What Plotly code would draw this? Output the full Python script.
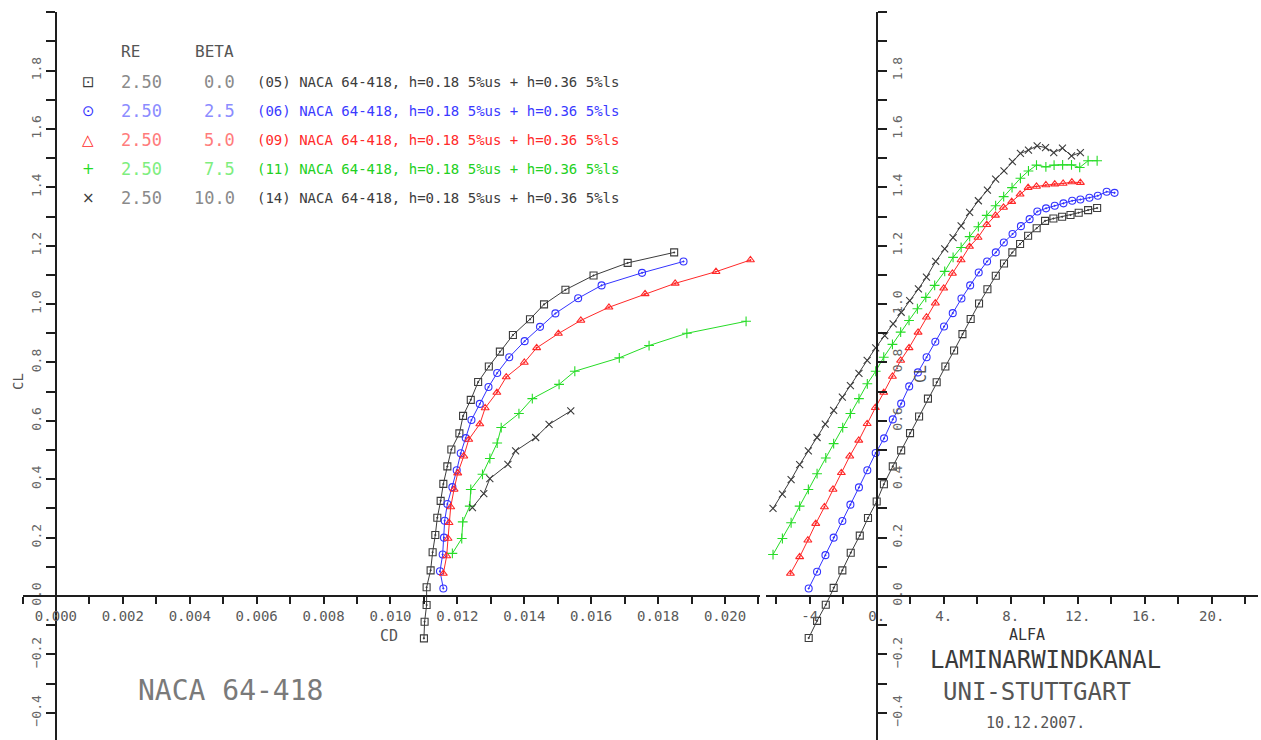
import plotly.graph_objects as go

W, H = 1261, 740

# ---------------- data: polar CL vs CD ----------------
cd_b00 = [0.01100, 0.01102, 0.01108, 0.01108, 0.01120, 0.01126, 0.01134, 0.01140, 0.01150, 0.01158,
          0.01170, 0.01182, 0.01206, 0.01217, 0.01240, 0.01262, 0.01294, 0.01327, 0.01366, 0.01417,
          0.01459, 0.01523, 0.01607, 0.01709, 0.01848]
clp_b00 = [-0.145, -0.088, -0.031, 0.030, 0.088, 0.150, 0.209, 0.268, 0.326, 0.384,
           0.444, 0.502, 0.557, 0.617, 0.672, 0.733, 0.786, 0.837, 0.894, 0.948,
           0.999, 1.049, 1.098, 1.141, 1.177]

cd_b25 = [0.01158, 0.01148, 0.01156, 0.01160, 0.01162, 0.01170, 0.01185, 0.01198, 0.01210, 0.01225,
          0.01242, 0.01267, 0.01293, 0.01319, 0.01355, 0.01401, 0.01447, 0.01493, 0.01561, 0.01631,
          0.01752, 0.01876]
clp_b25 = [0.026, 0.085, 0.142, 0.200, 0.258, 0.315, 0.373, 0.431, 0.489, 0.541,
           0.603, 0.658, 0.716, 0.764, 0.818, 0.873, 0.922, 0.968, 1.020, 1.064,
           1.107, 1.146]

cd_b50 = [0.01158, 0.01168, 0.01172, 0.01175, 0.01180, 0.01190, 0.01201, 0.01219, 0.01234, 0.01267,
          0.01283, 0.01318, 0.01346, 0.01400, 0.01437, 0.01502, 0.01569, 0.01653, 0.01761, 0.01851,
          0.01973, 0.02076]
clp_b50 = [0.077, 0.137, 0.197, 0.251, 0.305, 0.365, 0.421, 0.479, 0.536, 0.589,
           0.644, 0.697, 0.750, 0.800, 0.850, 0.899, 0.944, 0.989, 1.035, 1.071,
           1.111, 1.151]

cd_b75 = [0.01185, 0.01213, 0.01216, 0.01237, 0.01240, 0.01275, 0.01297, 0.01319, 0.01331, 0.01384,
          0.01424, 0.01504, 0.01551, 0.01684, 0.01773, 0.01886, 0.02063]
clp_b75 = [0.146, 0.197, 0.254, 0.308, 0.365, 0.417, 0.471, 0.524, 0.577, 0.625,
           0.676, 0.725, 0.770, 0.816, 0.858, 0.900, 0.941]

cd_b100 = [0.01245, 0.01279, 0.01297, 0.01351, 0.01374, 0.01434, 0.01474, 0.01539]
clp_b100 = [0.303, 0.351, 0.402, 0.451, 0.497, 0.543, 0.588, 0.634]

# ---------------- data: lift curve CL vs ALFA ----------------
alfa_b00 = [-4.06, -3.56, -3.04, -2.57, -2.05, -1.55, -1.01, -0.52, 0.00, 0.43,
            0.96, 1.46, 1.99, 2.53, 3.06, 3.58, 4.10, 4.62, 5.12, 5.61,
            6.11, 6.61, 7.11, 7.60, 8.10, 8.56, 9.04, 9.55, 10.05, 10.55,
            11.07, 11.57, 12.06, 12.62, 13.16]
cla_b00 = [-0.144, -0.085, -0.030, 0.028, 0.088, 0.148, 0.207, 0.267, 0.324, 0.383,
           0.444, 0.499, 0.558, 0.615, 0.676, 0.732, 0.786, 0.841, 0.897, 0.949,
           1.002, 1.051, 1.097, 1.139, 1.177, 1.206, 1.234, 1.260, 1.285, 1.293,
           1.299, 1.305, 1.313, 1.322, 1.329]

alfa_b25 = [-4.06, -3.56, -3.06, -2.57, -2.05, -1.57, -1.06, -0.56, -0.06, 0.44,
            0.96, 1.46, 1.94, 2.46, 2.98, 3.50, 4.02, 4.54, 5.06, 5.58,
            6.09, 6.59, 7.11, 7.59, 8.11, 8.61, 9.13, 9.59, 10.11, 10.63,
            11.15, 11.67, 12.16, 12.70, 13.20, 13.73, 14.20]
cla_b25 = [0.026, 0.083, 0.140, 0.200, 0.257, 0.313, 0.372, 0.431, 0.490, 0.540,
           0.605, 0.659, 0.718, 0.766, 0.818, 0.871, 0.923, 0.969, 1.019, 1.064,
           1.108, 1.146, 1.177, 1.211, 1.240, 1.267, 1.291, 1.317, 1.328, 1.337,
           1.345, 1.354, 1.358, 1.364, 1.371, 1.385, 1.381]

alfa_b50 = [-5.15, -4.60, -4.11, -3.64, -3.12, -2.61, -2.11, -1.61, -1.07, -0.57,
            -0.08, 0.42, 0.94, 1.43, 1.93, 2.47, 2.97, 3.50, 4.00, 4.52,
            5.04, 5.54, 6.05, 6.57, 7.09, 7.57, 8.06, 8.56, 9.04, 9.54,
            10.10, 10.63, 11.13, 11.65, 12.16]
cla_b50 = [0.077, 0.134, 0.191, 0.248, 0.305, 0.365, 0.422, 0.479, 0.533, 0.590,
           0.645, 0.697, 0.752, 0.807, 0.850, 0.903, 0.955, 1.003, 1.054, 1.105,
           1.151, 1.197, 1.228, 1.272, 1.304, 1.331, 1.351, 1.376, 1.399, 1.403,
           1.408, 1.411, 1.413, 1.418, 1.416]

alfa_b75 = [-6.19, -5.63, -5.11, -4.60, -4.08, -3.56, -3.04, -2.57, -2.03, -1.57,
            -1.06, -0.56, -0.06, 0.42, 0.94, 1.43, 1.93, 2.43, 2.93, 3.46,
            4.06, 4.56, 5.04, 5.55, 6.07, 6.57, 7.10, 7.58, 8.08, 8.58,
            9.06, 9.54, 10.10, 10.59, 11.10, 11.63, 12.12, 12.62, 13.16]
cla_b75 = [0.142, 0.197, 0.251, 0.308, 0.365, 0.419, 0.473, 0.522, 0.577, 0.625,
           0.676, 0.727, 0.770, 0.818, 0.862, 0.904, 0.944, 0.984, 1.023, 1.064,
           1.112, 1.160, 1.194, 1.231, 1.265, 1.304, 1.337, 1.368, 1.399, 1.431,
           1.456, 1.476, 1.470, 1.476, 1.477, 1.477, 1.468, 1.491, 1.491]

alfa_b100 = [-6.19, -5.63, -5.11, -4.60, -4.08, -3.56, -3.07, -2.57, -2.05, -1.57,
             -1.06, -0.57, -0.06, 0.48, 0.98, 1.46, 1.97, 2.49, 2.97, 3.52,
             4.06, 4.56, 5.04, 5.55, 6.07, 6.61, 7.10, 7.60, 8.10, 8.58,
             9.06, 9.58, 10.08, 10.57, 11.09, 11.63, 12.16]
cla_b100 = [0.300, 0.349, 0.399, 0.450, 0.497, 0.543, 0.589, 0.636, 0.681, 0.721,
            0.763, 0.807, 0.850, 0.892, 0.932, 0.972, 1.012, 1.052, 1.092, 1.146,
            1.189, 1.228, 1.268, 1.314, 1.354, 1.390, 1.428, 1.456, 1.488, 1.516,
            1.527, 1.542, 1.536, 1.519, 1.534, 1.508, 1.519]

# ---------------- legend texts ----------------
legend_re = ["2.50", "2.50", "2.50", "2.50", "2.50"]
legend_beta = ["0.0", "2.5", "5.0", "7.5", "10.0"]
legend_desc = [
    "(05) NACA 64-418, h=0.18 5%us + h=0.36 5%ls",
    "(06) NACA 64-418, h=0.18 5%us + h=0.36 5%ls",
    "(09) NACA 64-418, h=0.18 5%us + h=0.36 5%ls",
    "(11) NACA 64-418, h=0.18 5%us + h=0.36 5%ls",
    "(14) NACA 64-418, h=0.18 5%us + h=0.36 5%ls",
]
legend_glyph = ["\u22a1", "\u2299", "\u25b3", "+", "\u00d7"]

# tick labels
cd_ticks = [0.000, 0.002, 0.004, 0.006, 0.008, 0.010, 0.012, 0.014, 0.016, 0.018, 0.020]
cl_ticks = [-0.4, -0.2, 0.0, 0.2, 0.4, 0.6, 0.8, 1.0, 1.2, 1.4, 1.6, 1.8]
alfa_ticks = [-4, 0, 4, 8, 12, 16, 20]
alfa_ticktext = ["-4", "0.", "4.", "8.", "12.", "16.", "20."]

# ---------------- styles ----------------
styles = [
    dict(line="#3c3c3c", big="#8a8a8a", small="#3c3c3c", symbol="square-open-dot"),
    dict(line="#3434ff", big="#8c8cff", small="#3a3aff", symbol="circle-open-dot"),
    dict(line="#ff2828", big="#ff7c7c", small="#ff2a2a", symbol="triangle-up-open-dot"),
    dict(line="#26dc26", big="#7eee7e", small="#22d022", symbol="cross-thin-open"),
    dict(line="#3c3c3c", big="#8a8a8a", small="#3c3c3c", symbol="x-thin-open"),
]
polars = [(cd_b00, clp_b00), (cd_b25, clp_b25), (cd_b50, clp_b50), (cd_b75, clp_b75), (cd_b100, clp_b100)]
lifts = [(alfa_b00, cla_b00), (alfa_b25, cla_b25), (alfa_b50, cla_b50), (alfa_b75, cla_b75), (alfa_b100, cla_b100)]

fig = go.Figure()
for (cdv, clv), (av, clav), st in zip(polars, lifts, styles):
    mk = dict(symbol=st["symbol"], size=7, color=st["line"], line=dict(color=st["line"], width=1.1))
    fig.add_trace(go.Scatter(x=cdv, y=clv, mode="lines+markers", xaxis="x", yaxis="y",
                             line=dict(color=st["line"], width=1), marker=mk, showlegend=False,
                             cliponaxis=False))
    fig.add_trace(go.Scatter(x=av, y=clav, mode="lines+markers", xaxis="x2", yaxis="y2",
                             line=dict(color=st["line"], width=1), marker=mk, showlegend=False,
                             cliponaxis=False))

def px(x):
    return x / W

def py(y):
    return 1 - y / H

AX = "#1e1e1e"
TICKFONT = dict(family="DejaVu Sans Mono", size=13, color="#666666")
y_domain = [0, 728 / H]
y_range = [-0.4932, 2.0005]

common_y = dict(range=y_range, domain=y_domain, showgrid=False, zeroline=False, showline=True,
                linecolor=AX, linewidth=2, ticks="outside", ticklen=9, tickwidth=1.6, tickcolor=AX,
                tickmode="array", tickvals=cl_ticks, tickformat=".1f", tickangle=-90,
                tickfont=TICKFONT, anchor="free",
                minor=dict(ticks="outside", ticklen=9, tickwidth=1.6, tickcolor=AX, dtick=0.1, tick0=0,
                           showgrid=False))

fig.update_layout(
    width=W, height=H,
    margin=dict(l=0, r=0, t=0, b=0),
    paper_bgcolor="white", plot_bgcolor="white",
    showlegend=False,
    xaxis=dict(domain=[22.5 / W, 760 / W], range=[-0.001, 0.021046], anchor="free", position=py(596),
               showgrid=False, zeroline=False, showline=True, linecolor=AX, linewidth=2,
               ticks="outside", ticklen=7, tickwidth=1.6, tickcolor=AX,
               tickmode="array", tickvals=cd_ticks, tickformat=".3f",
               tickfont=dict(family="DejaVu Sans Mono", size=14, color="#5a5a5a"),
               minor=dict(ticks="outside", ticklen=7, tickwidth=1.6, tickcolor=AX, dtick=0.001, tick0=0,
                          showgrid=False)),
    xaxis2=dict(domain=[766 / W, 1258 / W], range=[-6.609, 22.764], anchor="free", position=py(596),
                showgrid=False, zeroline=False, showline=True, linecolor=AX, linewidth=2,
                ticks="outside", ticklen=7, tickwidth=1.6, tickcolor=AX,
                tickmode="array", tickvals=alfa_ticks, ticktext=alfa_ticktext,
                tickfont=dict(family="DejaVu Sans Mono", size=14, color="#5a5a5a"),
                minor=dict(ticks="outside", ticklen=7, tickwidth=1.6, tickcolor=AX, dtick=2, tick0=0,
                           showgrid=False)),
    yaxis=dict(position=56 / W, side="left", **common_y),
    yaxis2=dict(position=876.7 / W, side="right", **common_y),
)

ann = []
MONO = "DejaVu Sans Mono"
# axis titles
ann.append(dict(text="CD", x=px(389), y=py(636), font=dict(family=MONO, size=15, color="#555")))
ann.append(dict(text="ALFA", x=px(1027), y=py(635), font=dict(family=MONO, size=15, color="#333")))
ann.append(dict(text="CL", x=px(18), y=py(382), textangle=-90, font=dict(family=MONO, size=14, color="#555")))
ann.append(dict(text="CL", x=px(921), y=py(374), textangle=-90, font=dict(family=MONO, size=15, color="#555")))

# legend header
ann.append(dict(text="RE", x=px(119), y=py(52), xanchor="left", font=dict(family=MONO, size=16, color="#555")))
ann.append(dict(text="BETA", x=px(193), y=py(52), xanchor="left", font=dict(family=MONO, size=16, color="#555")))
for i, st in enumerate(styles):
    yy = py(82 + 29 * i)
    ann.append(dict(text=legend_glyph[i], x=px(88), y=yy, font=dict(family="DejaVu Sans", size=15, color=st["line"])))
    ann.append(dict(text=legend_re[i], x=px(119), y=yy, xanchor="left",
                    font=dict(family=MONO, size=17, color=st["big"])))
    ann.append(dict(text=legend_beta[i], x=px(237), y=yy, xanchor="right",
                    font=dict(family=MONO, size=17, color=st["big"])))
    ann.append(dict(text=legend_desc[i], x=px(255), y=yy, xanchor="left",
                    font=dict(family=MONO, size=14, color=st["small"])))

# titles
ann.append(dict(text="NACA 64-418", x=px(231), y=py(690), font=dict(family=MONO, size=28, color="#7a7a7a")))
ann.append(dict(text="LAMINARWINDKANAL", x=px(1045), y=py(660), font=dict(family=MONO, size=24, color="#3a3a3a")))
ann.append(dict(text="UNI-STUTTGART", x=px(1037), y=py(692), font=dict(family=MONO, size=24, color="#555")))
ann.append(dict(text="10.12.2007.", x=px(1035), y=py(723), font=dict(family=MONO, size=15, color="#555")))

for a in ann:
    a.setdefault("xanchor", "center")
    a.update(xref="paper", yref="paper", yanchor="middle", showarrow=False)
fig.update_layout(annotations=ann)

fig.write_html("out.html", config={"displayModeBar": False},
               post_script="document.body.style.margin='0';document.body.style.overflow='hidden';")
